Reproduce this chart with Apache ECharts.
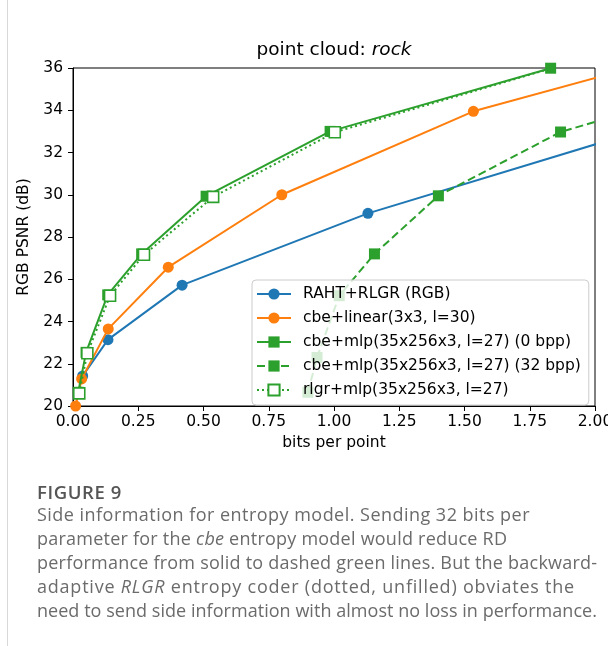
<!DOCTYPE html>
<html>
<head>
<meta charset="utf-8">
<script src="https://cdn.jsdelivr.net/npm/echarts@6/dist/echarts.min.js"></script>
<style>
html,body{margin:0;padding:0;background:#fff;}
#wrap{position:relative;width:615px;height:646px;overflow:hidden;}
#chart{position:absolute;left:0;top:0;width:608px;height:646px;}
#border{position:absolute;left:7px;top:0;width:1px;height:646px;background:#d8d8d8;}
.cap{position:absolute;left:37px;font-family:'Open Sans',sans-serif;font-size:18px;line-height:24px;color:#6b6b6b;white-space:nowrap;}
.cap i{font-style:italic;}
#figtitle{position:absolute;left:37px;top:480px;font-family:'Open Sans',sans-serif;font-weight:600;font-size:18.5px;line-height:24px;color:#555;letter-spacing:0.6px;}
</style>
</head>
<body>
<div id="wrap">
<div id="chart"></div>
<div id="border"></div>
<div id="figtitle"></div>
<div id="caption"></div>
</div>
<script>
// ---- data ----
const seriesNames = [
  'RAHT+RLGR (RGB)',
  'cbe+linear(3x3, l=30)',
  'cbe+mlp(35x256x3, l=27) (0 bpp)',
  'cbe+mlp(35x256x3, l=27) (32 bpp)',
  'rlgr+mlp(35x256x3, l=27)'
];
const rahtX = [0.037, 0.134, 0.418, 1.13, 2.4];
const rahtY = [21.42, 23.14, 25.72, 29.12, 33.88];
const linearX = [0.01, 0.033, 0.135, 0.365, 0.80, 1.534, 2.25];
const linearY = [20.0, 21.28, 23.65, 26.57, 30.0, 33.95, 36.37];
const mlp0X = [0.02, 0.05, 0.133, 0.263, 0.51, 0.985, 1.83];
const mlp0Y = [20.65, 22.54, 25.26, 27.2, 29.93, 33.0, 35.99];
const mlp32X = [0.90, 0.935, 1.02, 1.155, 1.40, 1.868, 2.72];
const mlp32Y = [20.65, 22.3, 25.22, 27.2, 29.95, 32.97, 36.05];
const rlgrX = [0.024, 0.055, 0.142, 0.272, 0.537, 1.003, 1.85];
const rlgrY = [20.6, 22.5, 25.22, 27.16, 29.9, 32.96, 36.05];
const xTicks = [0, 0.25, 0.5, 0.75, 1.0, 1.25, 1.5, 1.75, 2.0];
const yTicks = [20, 22, 24, 26, 28, 30, 32, 34, 36];
const captionTitle = 'FIGURE 9';
const captionLines = [
  [['Side information for entropy model. Sending 32 bits per', false]],
  [['parameter for the ', false], ['cbe', true], [' entropy model would reduce RD', false]],
  [['performance from solid to dashed green lines. But the backward-', false]],
  [['adaptive ', false], ['RLGR', true], [' entropy coder (dotted, unfilled) obviates the', false]],
  [['need to send side information with almost no loss in performance.', false]]
];
// right end (px) of each caption line in the reference layout
const captionLineEnds = [530, 507, 597, 575, 597];

const zip = (xs, ys) => xs.map((x, i) => [x, ys[i]]);
const BLUE = '#1f77b4', ORANGE = '#ff7f0e', GREEN = '#2ca02c';
const F = 'DejaVu Sans';
const FS = 15.5;

// caption as real HTML text; per-line letter spacing to fit the reference line lengths
document.getElementById('figtitle').textContent = captionTitle;
const capEl = document.getElementById('caption');
captionLines.forEach((parts, i) => {
  const d = document.createElement('div');
  d.className = 'cap';
  d.style.top = (502 + i * 24) + 'px';
  let n = 0;
  parts.forEach(p => {
    const s = document.createElement(p[1] ? 'i' : 'span');
    s.textContent = p[0];
    n += p[0].length;
    d.appendChild(s);
  });
  capEl.appendChild(d);
  const w = d.getBoundingClientRect().width;
  const target = captionLineEnds[i] - 37;
  const ls = Math.max(-0.5, Math.min(1.2, (target - w) / n));
  d.style.letterSpacing = ls.toFixed(2) + 'px';
});

const chart = echarts.init(document.getElementById('chart'), null, {renderer: 'canvas'});

function mk(name, data, color, symbol, lineType, hollow, z) {
  return {
    name: name, type: 'line', data: data, clip: true, z: z,
    symbol: symbol, symbolSize: 11,
    showAllSymbol: true,
    lineStyle: {color: color, width: 2, type: lineType},
    itemStyle: hollow ? {color: '#fff', borderColor: color, borderWidth: 1.6}
                      : {color: color, borderColor: color, borderWidth: 0},
    emphasis: {disabled: true},
    animation: false
  };
}

chart.setOption({
  backgroundColor: '#fff',
  animation: false,
  title: {
    text: '{n|point cloud: }{i|rock}',
    left: 334, top: 41, textAlign: 'center', padding: 0,
    textStyle: {
      fontWeight: 'normal',
      rich: {
        n: {fontFamily: F, fontSize: 18.5, fontWeight: 'normal', color: '#000'},
        i: {fontFamily: F, fontSize: 18.5, fontWeight: 'normal', fontStyle: 'italic', color: '#000'}
      }
    }
  },
  grid: {left: 73, top: 68, width: 522, height: 338, show: true, borderColor: '#000', borderWidth: 1,
         containLabel: false, outerBoundsMode: 'none'},
  xAxis: {
    type: 'value', min: 0, max: 2, interval: 0.25,
    name: 'bits per point', nameLocation: 'middle', nameGap: 26,
    nameTextStyle: {fontFamily: F, fontSize: FS, color: '#000'},
    axisLine: {show: true, onZero: false, lineStyle: {color: '#000', width: 1}},
    axisTick: {show: true, inside: false, length: 5, lineStyle: {color: '#000'}},
    axisLabel: {fontFamily: F, fontSize: FS, color: '#000', margin: 8, formatter: v => v.toFixed(2),
                showMaxLabel: true, hideOverlap: false},
    splitLine: {show: false}
  },
  yAxis: {
    type: 'value', min: 20, max: 36, interval: 2,
    name: 'RGB PSNR (dB)', nameLocation: 'middle', nameGap: 38,
    nameTextStyle: {fontFamily: F, fontSize: FS, color: '#000'},
    axisLine: {show: true, onZero: false, lineStyle: {color: '#000', width: 1}},
    axisTick: {show: true, inside: false, length: 5, lineStyle: {color: '#000'}},
    axisLabel: {fontFamily: F, fontSize: FS, color: '#000', margin: 10},
    splitLine: {show: false}
  },
  legend: {
    orient: 'vertical', left: 252, top: 280, z: 20,
    data: seriesNames,
    backgroundColor: 'rgba(255,255,255,0.8)',
    borderColor: '#cccccc', borderWidth: 1, borderRadius: 4,
    padding: [6, 8, 7, 4],
    itemGap: 8, itemWidth: 34, itemHeight: 14,
    textStyle: {fontFamily: F, fontSize: FS, color: '#000', padding: [0, 0, 0, 7]},
    selectedMode: false
  },
  series: [
    mk(seriesNames[0], zip(rahtX, rahtY), BLUE, 'circle', 'solid', false, 2),
    mk(seriesNames[1], zip(linearX, linearY), ORANGE, 'circle', 'solid', false, 3),
    mk(seriesNames[2], zip(mlp0X, mlp0Y), GREEN, 'rect', 'solid', false, 4),
    mk(seriesNames[3], zip(mlp32X, mlp32Y), GREEN, 'rect', [8, 4], false, 5),
    mk(seriesNames[4], zip(rlgrX, rlgrY), GREEN, 'rect', [2, 3], true, 6)
  ]
});
</script>
</body>
</html>
